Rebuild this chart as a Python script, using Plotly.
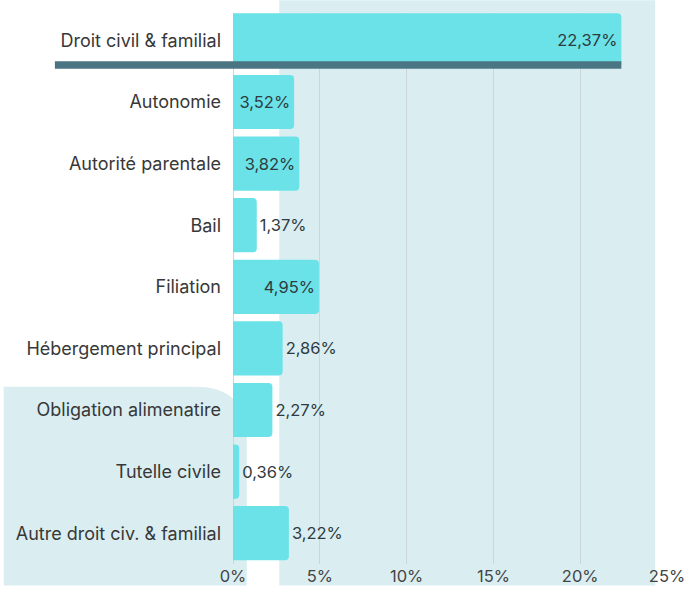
import plotly.graph_objects as go

categories = ["Droit civil & familial", "Autonomie", "Autorité parentale", "Bail",
              "Filiation", "Hébergement principal", "Obligation alimenatire",
              "Tutelle civile", "Autre droit civ. & familial"]
values = [22.37, 3.52, 3.82, 1.37, 4.95, 2.86, 2.27, 0.36, 3.22]
text_pos = ["inside", "inside", "inside", "outside", "inside", "outside",
            "outside", "outside", "outside"]
x_ticks = [0, 5, 10, 15, 20, 25]
x_tick_labels = ["0%", "5%", "10%", "15%", "20%", "25%"]

labels = [f"{v:.2f}".replace(".", ",") + "%" for v in values]

W, H = 697, 598
L, R, T, B = 233, 23, 13, 22
pw, ph = W - L - R, H - T - B

def px(x):
    return (x - L) / pw

def py(y):
    return (H - B - y) / ph

FONT = "Inter"
fig = go.Figure(go.Bar(
    x=values, y=list(range(len(categories))), orientation="h",
    marker=dict(color="#6AE2E8", cornerradius=4, line=dict(width=0)),
    width=0.88,
    text=labels, textposition=text_pos, insidetextanchor="end",
    constraintext="none", cliponaxis=False,
    textfont=dict(family=FONT, size=16.5, color="#2E3B40"),
    hoverinfo="skip",
))

bg = "#DAEEF1"
shapes = [
    dict(type="rect", xref="paper", yref="paper", x0=px(280), x1=px(662),
         y0=py(598), y1=py(0), fillcolor=bg, line=dict(width=0), layer="below"),
    dict(type="path", xref="paper", yref="paper",
         path=(f"M {px(0)},{py(598)} L {px(0)},{py(395)} L {px(195)},{py(395)} "
               f"Q {px(247)},{py(395)} {px(247)},{py(447)} L {px(247)},{py(598)} Z"),
         fillcolor=bg, line=dict(width=0), layer="below"),
    dict(type="rect", xref="paper", yref="y", x0=px(52), x1=values[0] / 25,
         y0=0.34, y1=0.46, fillcolor="#4A7683", line=dict(width=0), layer="above"),
]

fig.update_layout(
    width=W, height=H,
    margin=dict(l=L, r=R, t=T, b=B, pad=0),
    paper_bgcolor="white", plot_bgcolor="rgba(0,0,0,0)",
    showlegend=False, shapes=shapes,
    font=dict(family=FONT, color="#333333"),
    xaxis=dict(range=[0, 25], tickvals=x_ticks, ticktext=x_tick_labels,
               showgrid=True, gridcolor="#CCD6D9", gridwidth=1,
               zeroline=True, zerolinecolor="#CCD6D9", zerolinewidth=1,
               showline=False, ticks="",
               tickfont=dict(family=FONT, size=16.5, color="#444444")),
    yaxis=dict(range=[8.5, -0.445], tickvals=list(range(len(categories))),
               ticktext=categories, showgrid=False, zeroline=False, ticks="",
               ticklabelstandoff=11,
               tickfont=dict(family=FONT, size=18, color="#383838")),
)

fig.write_html("out.html", config={"displayModeBar": False},
               post_script="document.body.style.margin='0';")
